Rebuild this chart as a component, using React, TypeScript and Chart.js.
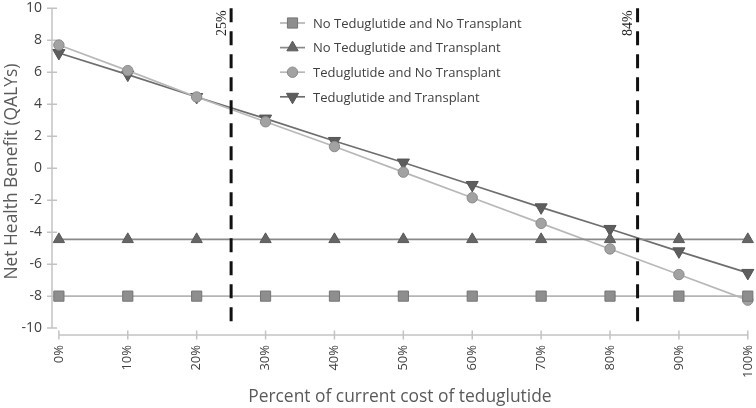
import React, { useEffect, useRef } from 'react';
import { Chart, registerables } from 'chart.js';
import { drawPoint } from 'chart.js/helpers';

Chart.register(...registerables);

const costPct = [0, 10, 20, 30, 40, 50, 60, 70, 80, 90, 100];
const noTedNoTx = [-8, -8, -8, -8, -8, -8, -8, -8, -8, -8, -8];
const noTedTx = [-4.45, -4.45, -4.45, -4.45, -4.45, -4.45, -4.45, -4.45, -4.45, -4.45, -4.45];
const tedNoTx = [7.7, 6.1, 4.45, 2.9, 1.35, -0.25, -1.85, -3.45, -5.05, -6.65, -8.25];
const tedTx = [7.2, 5.85, 4.45, 3.1, 1.7, 0.35, -1.05, -2.45, -3.8, -5.2, -6.55];
const seriesNames = [
  'No Teduglutide and No Transplant',
  'No Teduglutide and Transplant',
  'Teduglutide and No Transplant',
  'Teduglutide and Transplant',
];
const thresholds = [25, 84];
const thresholdLabels = ['25%', '84%'];
const yTicks = [-10, -8, -6, -4, -2, 0, 2, 4, 6, 8, 10];
const xTicks = [0, 10, 20, 30, 40, 50, 60, 70, 80, 90, 100];
const xTitle = 'Percent of current cost of teduglutide';
const yTitle = 'Net Health Benefit (QALYs)';

const FONT = "'Open Sans', 'Noto Sans', sans-serif";

const axisPlugin = {
  id: 'axisLines',
  beforeDatasetsDraw(chart: any) {
    const { ctx, scales, chartArea } = chart;
    const xs = scales.x;
    const ys = scales.y;
    ctx.save();
    ctx.strokeStyle = '#c3c3c3';
    ctx.lineWidth = 1.5;
    const yTop = ys.getPixelForValue(yTicks[yTicks.length - 1]);
    const yBot = ys.getPixelForValue(yTicks[0]);
    ctx.beginPath();
    ctx.moveTo(chartArea.left, yTop);
    ctx.lineTo(chartArea.left, yBot);
    yTicks.forEach((v) => {
      const p = ys.getPixelForValue(v);
      ctx.moveTo(chartArea.left - 5, p);
      ctx.lineTo(chartArea.left + 5, p);
    });
    const xl = xs.getPixelForValue(xTicks[0]);
    const xr = xs.getPixelForValue(xTicks[xTicks.length - 1]);
    const by = chartArea.bottom;
    ctx.moveTo(xl, by);
    ctx.lineTo(xr, by);
    xTicks.forEach((v) => {
      const p = xs.getPixelForValue(v);
      ctx.moveTo(p, by - 4.5);
      ctx.lineTo(p, by + 4.5);
    });
    ctx.stroke();
    ctx.restore();
  },
  afterDraw(chart: any) {
    const { ctx, scales } = chart;
    const xs = scales.x;
    ctx.save();
    ctx.font = "14px 'Liberation Serif', serif";
    ctx.fillStyle = '#222222';
    ctx.textAlign = 'left';
    ctx.textBaseline = 'middle';
    thresholds.forEach((t, i) => {
      const px = xs.getPixelForValue(t) - 9;
      ctx.save();
      ctx.translate(px, 36);
      ctx.rotate(-Math.PI / 2);
      ctx.fillText(thresholdLabels[i], 0, 0);
      ctx.restore();
    });
    const lx0 = 280;
    const lx1 = 305;
    const tx = 313;
    const top = 23;
    const gap = 24.6;
    ctx.font = `13px ${FONT}`;
    chart.data.datasets.slice(0, 4).forEach((ds: any, i: number) => {
      const y = top + i * gap;
      ctx.save();
      ctx.strokeStyle = ds.borderColor;
      ctx.lineWidth = ds.borderWidth;
      ctx.beginPath();
      ctx.moveTo(lx0, y);
      ctx.lineTo(lx1, y);
      ctx.stroke();
      ctx.fillStyle = ds.pointBackgroundColor;
      ctx.strokeStyle = ds.pointBorderColor;
      ctx.lineWidth = ds.pointBorderWidth;
      drawPoint(ctx, {
        pointStyle: ds.pointStyle,
        rotation: ds.pointRotation || 0,
        radius: ds.pointRadius,
        borderWidth: ds.pointBorderWidth,
      }, (lx0 + lx1) / 2, y);
      ctx.restore();
      ctx.fillStyle = '#404040';
      ctx.textBaseline = 'middle';
      ctx.fillText(seriesNames[i], tx, y + 1);
    });
    ctx.restore();
  },
};

function series(values: number[], opts: any) {
  return {
    type: 'line',
    data: costPct.map((x, i) => ({ x, y: values[i] })),
    borderWidth: 1.7,
    pointBorderWidth: 1,
    clip: false,
    ...opts,
  };
}

const hiddenTicksGrid = {
  display: true,
  drawOnChartArea: false,
  drawTicks: true,
  tickLength: 10,
  color: 'rgba(0,0,0,0)',
};

export default function App() {
  const ref = useRef<HTMLCanvasElement>(null);
  useEffect(() => {
    if (!ref.current) return;
    const datasets: any[] = [
      series(noTedNoTx, {
        label: seriesNames[0],
        borderColor: '#b5b5b5',
        pointBackgroundColor: '#8e8e8e',
        pointBorderColor: '#767676',
        pointStyle: 'rect',
        pointRadius: 7.2,
      }),
      series(noTedTx, {
        label: seriesNames[1],
        borderColor: '#8a8a8a',
        pointBackgroundColor: '#666666',
        pointBorderColor: '#5a5a5a',
        pointStyle: 'triangle',
        pointRadius: 6.5,
      }),
      series(tedNoTx, {
        label: seriesNames[2],
        borderColor: '#b8b8b8',
        pointBackgroundColor: '#a2a2a2',
        pointBorderColor: '#8a8a8a',
        pointStyle: 'circle',
        pointRadius: 5.2,
      }),
      series(tedTx, {
        label: seriesNames[3],
        borderColor: '#6e6e6e',
        pointBackgroundColor: '#5e5e5e',
        pointBorderColor: '#555555',
        pointStyle: 'triangle',
        pointRotation: 180,
        pointRadius: 7,
      }),
      ...thresholds.map((t) => ({
        type: 'line',
        label: String(t),
        data: [{ x: t, y: 10 }, { x: t, y: -10 }],
        borderColor: '#111111',
        borderWidth: 3,
        borderDash: [14, 9],
        pointRadius: 0,
        clip: false,
        order: -1,
      })),
    ];
    const chart = new Chart(ref.current, {
      type: 'line',
      data: { datasets },
      plugins: [axisPlugin],
      options: {
        animation: false,
        responsive: false,
        layout: { padding: { top: 5, right: 8, left: 0, bottom: 0 } },
        plugins: { legend: { display: false }, tooltip: { enabled: false } },
        scales: {
          x: {
            type: 'linear',
            min: -1,
            max: 100,
            afterBuildTicks: (s: any) => {
              s.ticks = xTicks.map((v) => ({ value: v }));
            },
            afterFit: (s: any) => {
              s.height = 73;
            },
            grid: hiddenTicksGrid,
            border: { display: false },
            ticks: {
              autoSkip: false,
              minRotation: 90,
              maxRotation: 90,
              padding: 0,
              color: '#404040',
              font: { family: FONT, size: 13, lineHeight: 0.5 },
              callback: (v: any) => `${v}%`,
            },
            title: {
              display: true,
              text: xTitle,
              color: '#5a5a5a',
              font: { family: FONT, size: 17.4 },
              padding: { top: 0, bottom: 1 },
            },
          },
          y: {
            type: 'linear',
            min: -10.43,
            max: 10,
            afterBuildTicks: (s: any) => {
              s.ticks = yTicks.map((v) => ({ value: v }));
            },
            afterFit: (s: any) => {
              s.width = 52;
            },
            grid: hiddenTicksGrid,
            border: { display: false },
            ticks: {
              padding: 0,
              color: '#404040',
              font: { family: FONT, size: 14, lineHeight: 0.7 },
              callback: (v: any) => String(v),
            },
            title: {
              display: true,
              text: yTitle,
              color: '#5a5a5a',
              font: { family: FONT, size: 17.4 },
              padding: { top: 2, bottom: 0 },
            },
          },
        },
      },
    } as any);
    return () => chart.destroy();
  }, []);
  return (
    <div style={{ position: 'fixed', left: 0, top: 0, width: 756, height: 408, background: '#fff' }}>
      <canvas ref={ref} width={756} height={408} style={{ width: 756, height: 408, display: 'block' }} />
    </div>
  );
}
